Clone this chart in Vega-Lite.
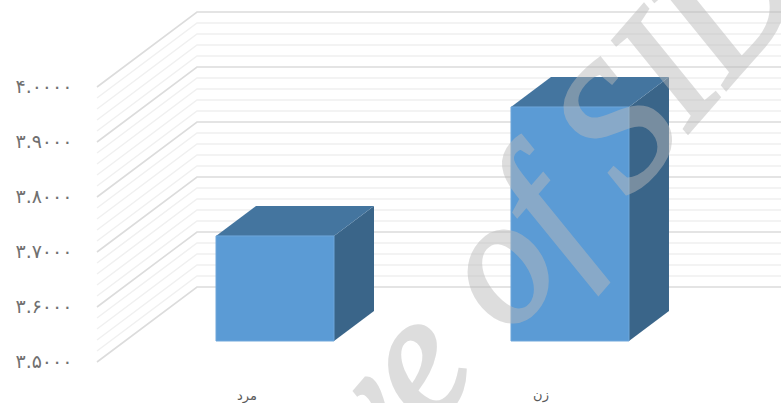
{"$schema":"https://vega.github.io/schema/vega-lite/v6.json","width":684,"height":403,"autosize":"none","padding":{"left":97,"top":0,"right":0,"bottom":0},"background":"white","config":{"view":{"stroke":null}},
"datasets":{
"grid":[
{"l":3.50,"k":"major","x":0.3966,"y":3.4618},{"l":3.50,"k":"major","x":0.7356,"y":3.5982},{"l":3.50,"k":"major","x":2.7153,"y":3.5982},
{"l":3.52,"k":"minor","x":0.3966,"y":3.4818},{"l":3.52,"k":"minor","x":0.7356,"y":3.6182},{"l":3.52,"k":"minor","x":2.7153,"y":3.6182},
{"l":3.54,"k":"minor","x":0.3966,"y":3.5018},{"l":3.54,"k":"minor","x":0.7356,"y":3.6382},{"l":3.54,"k":"minor","x":2.7153,"y":3.6382},
{"l":3.56,"k":"minor","x":0.3966,"y":3.5218},{"l":3.56,"k":"minor","x":0.7356,"y":3.6582},{"l":3.56,"k":"minor","x":2.7153,"y":3.6582},
{"l":3.58,"k":"minor","x":0.3966,"y":3.5418},{"l":3.58,"k":"minor","x":0.7356,"y":3.6782},{"l":3.58,"k":"minor","x":2.7153,"y":3.6782},
{"l":3.60,"k":"major","x":0.3966,"y":3.5618},{"l":3.60,"k":"major","x":0.7356,"y":3.6982},{"l":3.60,"k":"major","x":2.7153,"y":3.6982},
{"l":3.62,"k":"minor","x":0.3966,"y":3.5818},{"l":3.62,"k":"minor","x":0.7356,"y":3.7182},{"l":3.62,"k":"minor","x":2.7153,"y":3.7182},
{"l":3.64,"k":"minor","x":0.3966,"y":3.6018},{"l":3.64,"k":"minor","x":0.7356,"y":3.7382},{"l":3.64,"k":"minor","x":2.7153,"y":3.7382},
{"l":3.66,"k":"minor","x":0.3966,"y":3.6218},{"l":3.66,"k":"minor","x":0.7356,"y":3.7582},{"l":3.66,"k":"minor","x":2.7153,"y":3.7582},
{"l":3.68,"k":"minor","x":0.3966,"y":3.6418},{"l":3.68,"k":"minor","x":0.7356,"y":3.7782},{"l":3.68,"k":"minor","x":2.7153,"y":3.7782},
{"l":3.70,"k":"major","x":0.3966,"y":3.6618},{"l":3.70,"k":"major","x":0.7356,"y":3.7982},{"l":3.70,"k":"major","x":2.7153,"y":3.7982},
{"l":3.72,"k":"minor","x":0.3966,"y":3.6818},{"l":3.72,"k":"minor","x":0.7356,"y":3.8182},{"l":3.72,"k":"minor","x":2.7153,"y":3.8182},
{"l":3.74,"k":"minor","x":0.3966,"y":3.7018},{"l":3.74,"k":"minor","x":0.7356,"y":3.8382},{"l":3.74,"k":"minor","x":2.7153,"y":3.8382},
{"l":3.76,"k":"minor","x":0.3966,"y":3.7218},{"l":3.76,"k":"minor","x":0.7356,"y":3.8582},{"l":3.76,"k":"minor","x":2.7153,"y":3.8582},
{"l":3.78,"k":"minor","x":0.3966,"y":3.7418},{"l":3.78,"k":"minor","x":0.7356,"y":3.8782},{"l":3.78,"k":"minor","x":2.7153,"y":3.8782},
{"l":3.80,"k":"major","x":0.3966,"y":3.7618},{"l":3.80,"k":"major","x":0.7356,"y":3.8982},{"l":3.80,"k":"major","x":2.7153,"y":3.8982},
{"l":3.82,"k":"minor","x":0.3966,"y":3.7818},{"l":3.82,"k":"minor","x":0.7356,"y":3.9182},{"l":3.82,"k":"minor","x":2.7153,"y":3.9182},
{"l":3.84,"k":"minor","x":0.3966,"y":3.8018},{"l":3.84,"k":"minor","x":0.7356,"y":3.9382},{"l":3.84,"k":"minor","x":2.7153,"y":3.9382},
{"l":3.86,"k":"minor","x":0.3966,"y":3.8218},{"l":3.86,"k":"minor","x":0.7356,"y":3.9582},{"l":3.86,"k":"minor","x":2.7153,"y":3.9582},
{"l":3.88,"k":"minor","x":0.3966,"y":3.8418},{"l":3.88,"k":"minor","x":0.7356,"y":3.9782},{"l":3.88,"k":"minor","x":2.7153,"y":3.9782},
{"l":3.90,"k":"major","x":0.3966,"y":3.8618},{"l":3.90,"k":"major","x":0.7356,"y":3.9982},{"l":3.90,"k":"major","x":2.7153,"y":3.9982},
{"l":3.92,"k":"minor","x":0.3966,"y":3.8818},{"l":3.92,"k":"minor","x":0.7356,"y":4.0182},{"l":3.92,"k":"minor","x":2.7153,"y":4.0182},
{"l":3.94,"k":"minor","x":0.3966,"y":3.9018},{"l":3.94,"k":"minor","x":0.7356,"y":4.0382},{"l":3.94,"k":"minor","x":2.7153,"y":4.0382},
{"l":3.96,"k":"minor","x":0.3966,"y":3.9218},{"l":3.96,"k":"minor","x":0.7356,"y":4.0582},{"l":3.96,"k":"minor","x":2.7153,"y":4.0582},
{"l":3.98,"k":"minor","x":0.3966,"y":3.9418},{"l":3.98,"k":"minor","x":0.7356,"y":4.0782},{"l":3.98,"k":"minor","x":2.7153,"y":4.0782},
{"l":4.00,"k":"major","x":0.3966,"y":3.9618},{"l":4.00,"k":"major","x":0.7356,"y":4.0982},{"l":4.00,"k":"major","x":2.7153,"y":4.0982}
],
"front":[{"category":"مرد","left":0.8,"right":1.2,"value":3.691,"base":3.5},{"category":"زن","left":1.8,"right":2.2,"value":3.9255,"base":3.5}],
"top":[{"category":"مرد","x":0.8,"x2":1.2,"y":3.691},{"category":"مرد","x":0.9356,"x2":1.3356,"y":3.7455},{"category":"زن","x":1.8,"x2":2.2,"y":3.9255},{"category":"زن","x":1.9356,"x2":2.3356,"y":3.98}],
"side":[{"category":"مرد","x":1.2,"y":3.691,"y2":3.5},{"category":"مرد","x":1.3356,"y":3.7455,"y2":3.5545},{"category":"زن","x":2.2,"y":3.9255,"y2":3.5},{"category":"زن","x":2.3356,"y":3.98,"y2":3.5545}],
"labels":[{"category":"مرد","x":0.905,"y":3.3927},{"category":"زن","x":1.9017,"y":3.3945}],
"mark":[{"text":"Archive of SID","x":1.515,"y":3.48}]
},
"layer":[
{"data":{"name":"grid"},"transform":[{"filter":"datum.k==='minor'"}],"mark":{"type":"line","stroke":"#f0f0f0","strokeWidth":1.5},
"encoding":{"x":{"field":"x","type":"quantitative","scale":{"domain":[0.3966,2.7153],"nice":false,"zero":false},"axis":null},
"y":{"field":"y","type":"quantitative","scale":{"domain":[3.38727,4.12],"nice":false,"zero":false},
"axis":{"values":[3.5,3.6,3.7,3.8,3.9,4.0],"title":null,"grid":false,"domain":false,"ticks":false,"labelPadding":25,"labelOffset":21,"labelFontSize":19,"labelFont":"DejaVu Sans","labelColor":"#707070",
"labelExpr":"datum.value>3.95?'۴.۰۰۰۰':datum.value>3.85?'۳.۹۰۰۰':datum.value>3.75?'۳.۸۰۰۰':datum.value>3.65?'۳.۷۰۰۰':datum.value>3.55?'۳.۶۰۰۰':'۳.۵۰۰۰'"}},
"detail":{"field":"l","type":"nominal"}}},
{"data":{"name":"grid"},"transform":[{"filter":"datum.k==='major'"}],"mark":{"type":"line","stroke":"#dcdcdc","strokeWidth":1.6},
"encoding":{"x":{"field":"x","type":"quantitative"},"y":{"field":"y","type":"quantitative"},"detail":{"field":"l","type":"nominal"}}},
{"data":{"name":"side"},"mark":{"type":"area","fill":"#3a6589","orient":"vertical"},
"encoding":{"x":{"field":"x","type":"quantitative"},"y":{"field":"y","type":"quantitative"},"y2":{"field":"y2"},"detail":{"field":"category","type":"nominal"}}},
{"data":{"name":"top"},"mark":{"type":"area","fill":"#44759f","orient":"horizontal"},
"encoding":{"y":{"field":"y","type":"quantitative"},"x":{"field":"x","type":"quantitative"},"x2":{"field":"x2"},"detail":{"field":"category","type":"nominal"}}},
{"data":{"name":"front"},"mark":{"type":"rect","fill":"#5b9bd5","stroke":"#6ea6da","strokeWidth":1},
"encoding":{"x":{"field":"left","type":"quantitative"},"x2":{"field":"right"},"y":{"field":"value","type":"quantitative"},"y2":{"field":"base"}}},
{"data":{"name":"labels"},"mark":{"type":"text","font":"DejaVu Sans","fontSize":13,"fill":"#595959","baseline":"alphabetic","align":"center"},
"encoding":{"x":{"field":"x","type":"quantitative"},"y":{"field":"y","type":"quantitative"},"text":{"field":"category"}}},
{"data":{"name":"mark"},"mark":{"type":"text","font":"Liberation Serif","fontSize":178,"fontStyle":"italic","fill":"#bababa","stroke":"#bababa","strokeWidth":4,"opacity":0.48,"angle":-49,"align":"center","baseline":"middle"},
"encoding":{"x":{"field":"x","type":"quantitative"},"y":{"field":"y","type":"quantitative"},"text":{"field":"text"}}}
]}
